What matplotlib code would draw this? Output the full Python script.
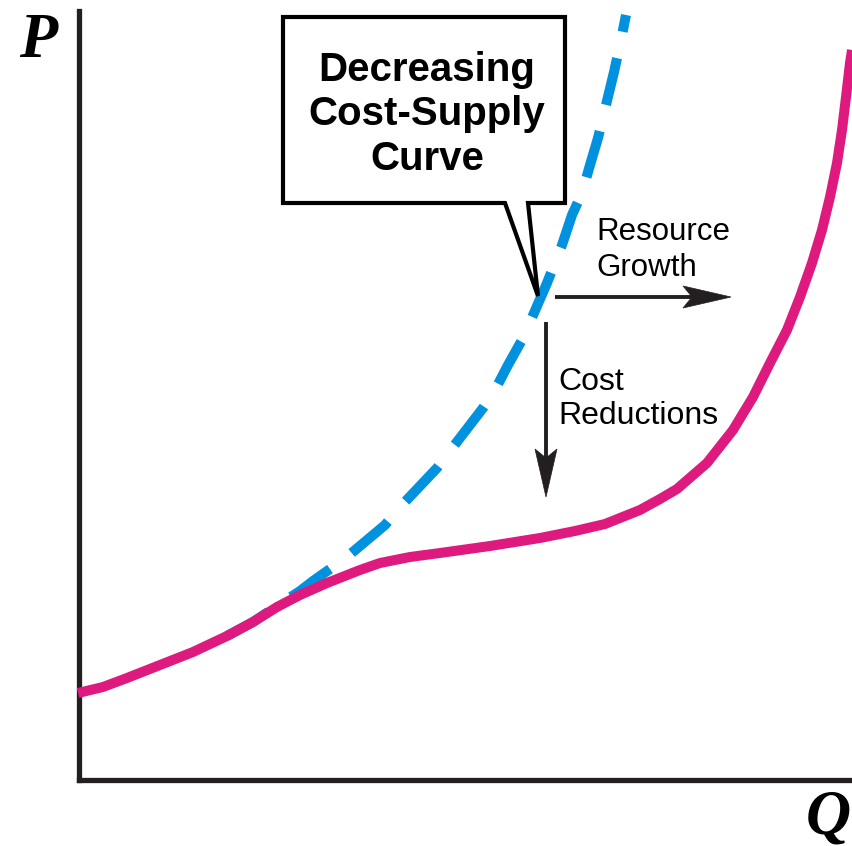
import matplotlib
matplotlib.use("Agg")
import matplotlib.pyplot as plt
from matplotlib.patches import Polygon
import numpy as np

# ---- data (Q, P units; origin at the axes corner) ----
supply_q = [-1, 24, 48, 81, 114, 148, 174, 198, 221, 248, 281, 301, 331, 361,
            411, 461, 496, 526, 561, 581, 598, 628, 654, 674, 691, 708, 721,
            733, 743, 751, 758, 763, 767, 771, 773]
supply_p = [87, 93, 102, 115, 128, 144, 158, 173, 185, 197, 210, 217, 223, 227,
            234, 242, 249, 256, 270, 281, 291, 317, 350, 383, 417, 450, 483,
            517, 550, 583, 617, 650, 683, 717, 730]

decr_q = [148, 174, 198, 221, 234, 251, 269, 306, 323, 358, 374, 404, 416, 429,
          443, 455, 468, 483, 493, 503, 511, 519, 527, 535, 542, 547]
decr_p = [144, 158, 174, 189, 199, 211, 224, 255, 275, 312, 333, 372, 390, 415,
          440, 467, 497, 535, 565, 587, 615, 642, 675, 708, 740, 765]

callout_lines = ["Decreasing", "Cost-Supply", "Curve"]
growth_lines = ["Resource", "Growth"]
cost_lines = ["Cost", "Reductions"]

PINK = "#DE1A7E"
BLUE = "#0091DF"
INK = "#231F20"

W, H = 852, 846
fig = plt.figure(figsize=(W / 100, H / 100), dpi=100)
x0, y0 = 79, 780          # axis corner in pixels
xmax, ytop = 852, 11
ax = fig.add_axes([x0 / W, (H - y0) / H, (xmax - x0) / W, (y0 - ytop) / H])
ax.set_xlim(0, xmax - x0)
ax.set_ylim(0, y0 - ytop)
ax.set_xticks([])
ax.set_yticks([])
for s in ["top", "right"]:
    ax.spines[s].set_visible(False)
for s in ["left", "bottom"]:
    ax.spines[s].set_linewidth(3.8)
    ax.spines[s].set_color(INK)
    ax.spines[s].set_capstyle("projecting")

lw = 7.2
ax.plot(decr_q, decr_p, color=BLUE, lw=lw, dashes=(4.8, 2.7),
        solid_capstyle="butt", dash_capstyle="butt", dash_joinstyle="round",
        clip_on=False, zorder=2)
ax.plot(supply_q, supply_p, color=PINK, lw=lw, solid_capstyle="butt",
        solid_joinstyle="round", clip_on=False, zorder=3)

def px(x, y):
    return x - x0, y0 - y

# callout box
box = [px(283, 17), px(565, 17), px(565, 203), px(528, 203), px(538, 296),
       px(505, 203), px(283, 203)]
ax.add_patch(Polygon(box, closed=True, facecolor="white", edgecolor="black",
                     lw=3.0, joinstyle="miter", clip_on=False, zorder=4))

bold_font = ["Liberation Sans", "DejaVu Sans"]
for line, base in zip(callout_lines, [81, 125, 170]):
    ax.text(*px(427, base), line, ha="center", va="baseline", fontsize=29,
            fontweight="bold", family=bold_font, color="black", zorder=5)

reg_font = ["Liberation Sans", "DejaVu Sans"]
for line, base in zip(growth_lines, [240, 276]):
    ax.text(*px(596, base), line, ha="left", va="baseline", fontsize=22.5,
            family=reg_font, color="black", zorder=5)
for line, base in zip(cost_lines, [390, 424]):
    ax.text(*px(558, base), line, ha="left", va="baseline", fontsize=23,
            family=reg_font, color="black", zorder=5)

def arrow(start, tip, head_len=48, head_half=11, notch=9):
    sx, sy = start
    tx, ty = tip
    d = np.array([tx - sx, ty - sy], float)
    L = np.hypot(*d)
    u = d / L
    n = np.array([-u[1], u[0]])
    back = np.array([tx, ty]) - u * head_len
    shaft_end = back + u * notch
    ax.plot(*px(*np.array([[sx, sy], shaft_end]).T), color=INK, lw=2.8,
            solid_capstyle="butt", clip_on=False, zorder=5)
    pts = [np.array([tx, ty]), back + n * head_half, back + u * notch, back - n * head_half]
    ax.add_patch(Polygon([px(*p) for p in pts], closed=True, facecolor=INK,
                         edgecolor=INK, lw=0.5, clip_on=False, zorder=5))

arrow((555, 297), (731, 297))
arrow((546, 322), (546, 497))

serif = ["Liberation Serif", "DejaVu Serif"]
ax.text(*px(19, 57), "P", ha="left", va="baseline", fontsize=45,
        fontweight="bold", fontstyle="italic", family=serif, color="black")
ax.text(*px(806, 833), "Q", ha="left", va="baseline", fontsize=45,
        fontweight="bold", fontstyle="italic", family=serif, color="black")

fig.savefig("out.png", dpi=100, facecolor="white")
